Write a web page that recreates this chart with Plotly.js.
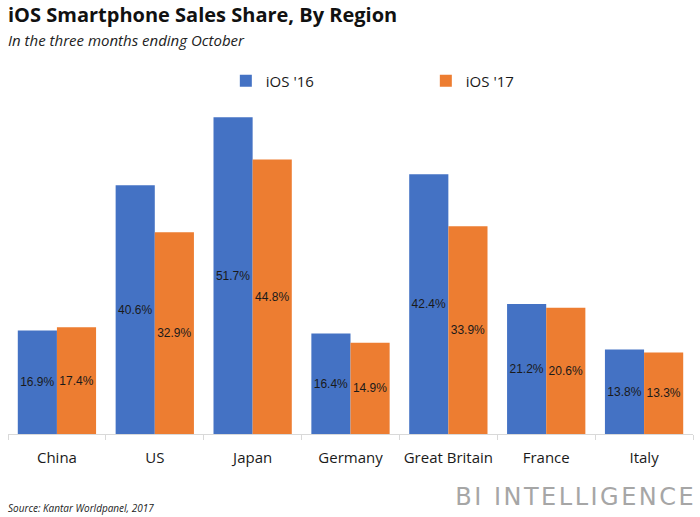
<!DOCTYPE html>
<html>
<head>
<meta charset="utf-8">
<script src="https://cdn.plot.ly/plotly-3.0.1.min.js"></script>
<style>
html,body{margin:0;padding:0;background:#fff;}
#chart{width:700px;height:517px;}
g.annotation[data-index="3"] text{letter-spacing:2.5px;}
</style>
</head>
<body>
<div id="chart"></div>
<script>
const regions = ["China", "US", "Japan", "Germany", "Great Britain", "France", "Italy"];
const ios16 = [16.9, 40.6, 51.7, 16.4, 42.4, 21.2, 13.8];
const ios17 = [17.4, 32.9, 44.8, 14.9, 33.9, 20.6, 13.3];
const seriesNames = ["iOS '16", "iOS '17"];

const labelFont = {family: "Liberation Sans, Arial, sans-serif", size: 12, color: "#1a1a1a"};
function barTrace(name, vals, color) {
  return {
    type: "bar", name: name, x: regions, y: vals,
    marker: {color: color},
    texttemplate: "%{y:.1f}%",
    textposition: "inside",
    insidetextanchor: "middle",
    textangle: 0,
    constraintext: "none",
    insidetextfont: labelFont,
    hoverinfo: "skip"
  };
}
const data = [
  barTrace(seriesNames[0], ios16, "#4472c4"),
  barTrace(seriesNames[1], ios17, "#ed7d31")
];
const layout = {
  width: 700, height: 517,
  margin: {l: 8, r: 7, t: 100, b: 83},
  paper_bgcolor: "#fff", plot_bgcolor: "#fff",
  barmode: "group", bargap: 0.2, bargroupgap: 0,
  font: {family: "Open Sans, sans-serif"},
  xaxis: {
    showline: true, linecolor: "#d9d9d9", linewidth: 1,
    ticks: "outside", tickson: "boundaries", ticklen: 5, tickcolor: "#d9d9d9",
    tickangle: 0, automargin: false, ticklabelstandoff: 10,
    tickfont: {family: "Open Sans, sans-serif", size: 15, color: "#1a1a1a"},
    fixedrange: true
  },
  yaxis: {range: [0, 54.5], visible: false, showgrid: false, zeroline: false, fixedrange: true},
  showlegend: true,
  legend: {
    orientation: "h", x: 0.318, xanchor: "left", y: 1.057, yanchor: "middle",
    entrywidth: 155, entrywidthmode: "pixels",
    font: {family: "Open Sans, sans-serif", size: 15, color: "#1a1a1a"},
    traceorder: "normal"
  },
  annotations: [
    {xref: "paper", yref: "paper", x: -0.003, y: 1.0, yanchor: "top", xanchor: "left",
     yshift: 101, text: "<b>iOS Smartphone Sales Share, By Region</b>", showarrow: false,
     font: {family: "Open Sans, sans-serif", size: 20, color: "#111"}},
    {xref: "paper", yref: "paper", x: -0.003, y: 1.0, yanchor: "top", xanchor: "left",
     yshift: 72, text: "<i>In the three months ending October</i>", showarrow: false,
     font: {family: "Open Sans, sans-serif", size: 15, color: "#222"}},
    {xref: "paper", yref: "paper", x: -0.003, y: 0, yanchor: "middle", xanchor: "left",
     yshift: -74, text: "<i>Source: Kantar Worldpanel, 2017</i>", showarrow: false,
     font: {family: "Open Sans, sans-serif", size: 10, color: "#222"}},
    {xref: "paper", yref: "paper", x: 0.6774, y: 0, yanchor: "middle", xanchor: "left",
     yshift: -63, text: "BI INTELLIGENCE", showarrow: false,
     font: {family: "DejaVu Sans, sans-serif", size: 24, color: "#a6a6a6"}}
  ]
};
Plotly.newPlot("chart", data, layout, {displayModeBar: false, staticPlot: true});
</script>
</body>
</html>
